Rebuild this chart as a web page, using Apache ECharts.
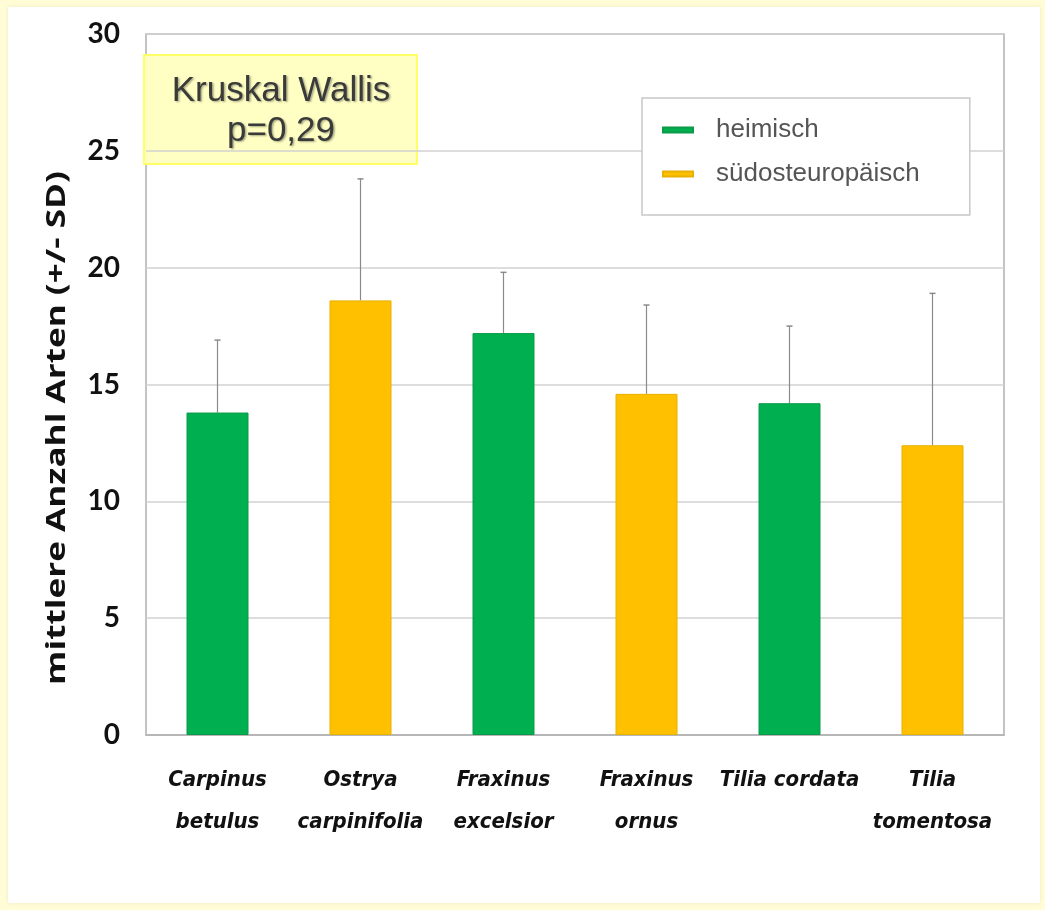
<!DOCTYPE html>
<html>
<head>
<meta charset="utf-8">
<script src="https://cdn.jsdelivr.net/npm/echarts@6/dist/echarts.min.js"></script>
<style>
  html, body { margin: 0; padding: 0; background: #fffcd6; }
  #main { width: 1045px; height: 910px; }
</style>
</head>
<body>
<div id="main"></div>
<script>
// Daten
var categories = ['Carpinus\nbetulus', 'Ostrya\ncarpinifolia', 'Fraxinus\nexcelsior', 'Fraxinus\nornus', 'Tilia cordata', 'Tilia\ntomentosa'];
var groups = ['heimisch', 'südosteuropäisch', 'heimisch', 'südosteuropäisch', 'heimisch', 'südosteuropäisch'];
var means = [13.8, 18.6, 17.2, 14.6, 14.2, 12.4];
var sd = [3.1, 5.2, 2.6, 3.8, 3.3, 6.5];
var yTicks = [0, 5, 10, 15, 20, 25, 30];

var groupNames = ['heimisch', 'südosteuropäisch'];
var groupColors = ['#00b050', '#ffc000'];
var yTitle = 'mittlere Anzahl Arten (+/- SD)';

function seriesData(g) {
  return means.map(function (v, i) { return groups[i] === g ? v : '-'; });
}

var chartDom = document.getElementById('main');
var myChart = echarts.init(chartDom);

var option = {
  backgroundColor: '#fffcd6',
  animation: false,
  graphic: [
    {
      type: 'rect', z: -10, silent: true,
      shape: { x: 8, y: 7, width: 1032, height: 896 },
      style: { fill: '#ffffff', shadowBlur: 4, shadowColor: 'rgba(0,0,0,0.08)' }
    },
    // Achsentitel (im Original vertikal gestreckt)
    {
      type: 'text',
      x: 57, y: 428,
      rotation: Math.PI / 2,
      scaleX: 1.3,
      style: {
        text: yTitle,
        font: 'bold 27px "Open Sans", Lato, sans-serif',
        fill: '#111',
        align: 'center',
        verticalAlign: 'middle'
      }
    },
    {
      type: 'group', z: 100, left: 143, top: 54,
      children: [
        {
          type: 'rect',
          shape: { x: 0, y: 0, width: 273, height: 109 },
          style: { fill: '#ffffc4', stroke: '#ffff66', lineWidth: 2 }
        },
        {
          type: 'text',
          x: 137, y: 56,
          style: {
            text: 'Kruskal Wallis\np=0,29',
            font: '35px "Liberation Sans", Arial, sans-serif',
            fill: '#3a3a3a',
            align: 'center', verticalAlign: 'middle',
            lineHeight: 40,
            textShadowColor: 'rgba(0,0,0,0.35)',
            textShadowBlur: 2,
            textShadowOffsetX: 1.5,
            textShadowOffsetY: 1.5
          }
        }
      ]
    }
  ],
  legend: {
    orient: 'vertical',
    left: 642,
    top: 98,
    icon: 'rect',
    itemWidth: 30,
    itemHeight: 5,
    itemGap: 18,
    padding: [19, 50, 28, 20],
    backgroundColor: '#ffffff',
    borderColor: '#c8c8c8',
    borderWidth: 1.5,
    textStyle: {
      fontFamily: '"Liberation Sans", Arial, sans-serif',
      fontSize: 26,
      color: '#555',
      padding: [0, 0, 0, 18]
    },
    data: groupNames
  },
  grid: {
    left: 146,
    right: 41,
    top: 34,
    bottom: 175,
    show: true,
    borderColor: '#b0b0b0',
    borderWidth: 1.5,
    backgroundColor: '#ffffff'
  },
  xAxis: {
    type: 'category',
    data: categories,
    axisLine: { lineStyle: { color: '#b0b0b0', width: 1.5 } },
    axisTick: { show: false },
    axisLabel: {
      interval: 0,
      margin: 24,
      fontFamily: '"Liberation Sans Narrow", "DejaVu Sans Condensed", sans-serif',
      fontStyle: 'italic',
      fontWeight: 'bold',
      fontSize: 22,
      lineHeight: 42,
      color: '#111'
    }
  },
  yAxis: {
    type: 'value',
    min: yTicks[0],
    max: yTicks[yTicks.length - 1],
    interval: 5,
    axisLine: { show: false },
    axisTick: { show: false },
    axisLabel: {
      margin: 26,
      fontFamily: 'Lato, "Open Sans", sans-serif',
      fontWeight: 'bold',
      fontSize: 28,
      color: '#111'
    },
    splitLine: { lineStyle: { color: '#d2d2d2', width: 1.5 } }
  },
  series: [
    {
      name: groupNames[0],
      type: 'bar',
      barWidth: 62,
      barGap: '-100%',
      itemStyle: { color: groupColors[0], borderColor: '#0a9a48', borderWidth: 1 },
      data: seriesData(groupNames[0])
    },
    {
      name: groupNames[1],
      type: 'bar',
      barWidth: 62,
      barGap: '-100%',
      itemStyle: { color: groupColors[1], borderColor: '#e8b000', borderWidth: 1 },
      data: seriesData(groupNames[1])
    },
    {
      type: 'custom',
      name: 'SD',
      z: 1,
      data: means.map(function (v, i) { return [i, v, v + sd[i]]; }),
      renderItem: function (params, api) {
        var low = api.coord([api.value(0), api.value(1)]);
        var high = api.coord([api.value(0), api.value(2)]);
        var cap = 3;
        return {
          type: 'group',
          children: [
            {
              type: 'line',
              shape: { x1: low[0], y1: low[1], x2: high[0], y2: high[1] },
              style: { stroke: '#8a8a8a', lineWidth: 1.2 }
            },
            {
              type: 'line',
              shape: { x1: high[0] - cap, y1: high[1], x2: high[0] + cap, y2: high[1] },
              style: { stroke: '#8a8a8a', lineWidth: 1.5 }
            }
          ]
        };
      }
    }
  ]
};

myChart.setOption(option);
</script>
</body>
</html>
